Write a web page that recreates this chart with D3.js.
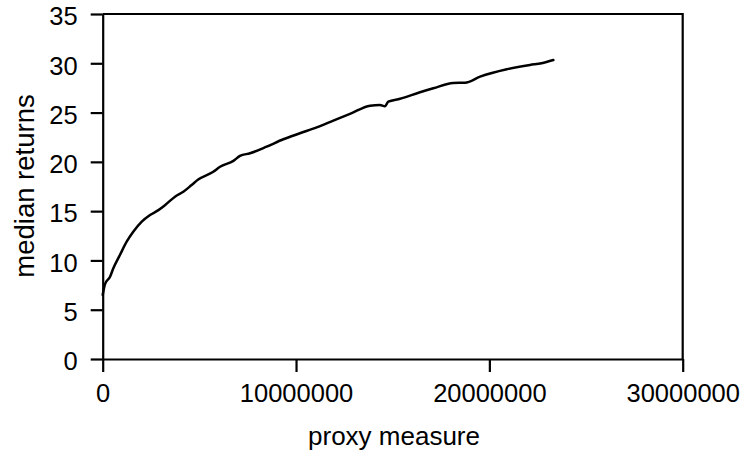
<!DOCTYPE html>
<html>
<head>
<meta charset="utf-8">
<script src="https://cdn.jsdelivr.net/npm/d3@7"></script>
<style>
  body { margin: 0; background: #fff; }
  svg text { font-family: "Liberation Sans", Arial, Helvetica, sans-serif; fill: #000; }
</style>
</head>
<body>
<script>
// proxy measure values along the curve
var proxyVals = [0, 120000, 380000, 550000, 890000, 1240000, 1580000, 2020000, 2450000, 2880000,
  3220000, 3740000, 4170000, 4600000, 4940000, 5720000, 6070000, 6760000, 7100000, 7620000,
  8480000, 9340000, 10200000, 11070000, 11930000, 12790000, 13830000, 14340000, 14600000, 14770000,
  15380000, 16410000, 17100000, 18130000, 18740000, 19520000, 20900000, 22100000, 22700000, 23310000];
// median returns at those points
var medianVals = [6.5, 7.6, 8.35, 9.2, 10.55, 11.9, 12.9, 13.93, 14.6, 15.1,
  15.6, 16.47, 16.97, 17.65, 18.2, 19.0, 19.5, 20.1, 20.6, 20.87,
  21.54, 22.29, 22.9, 23.5, 24.18, 24.86, 25.7, 25.77, 25.65, 26.1,
  26.4, 27.06, 27.46, 28.0, 28.03, 28.64, 29.39, 29.83, 30.0, 30.33];

var xTicks = [0, 10000000, 20000000, 30000000];
var yTicks = [0, 5, 10, 15, 20, 25, 30, 35];

var w = 745, h = 462;
var plotL = 102.7, plotR = 682.7, plotT = 14, plotB = 359;

var svg = d3.select("body").append("svg")
  .attr("width", w)
  .attr("height", h);

var x = d3.scaleLinear().domain([0, 30000000]).range([plotL, plotR]);
var y = d3.scaleLinear().domain([0, 35]).range([plotB, plotT]);

// frame top and right
svg.append("path")
  .attr("d", "M" + plotL + "," + plotT + "H" + plotR + "V" + plotB)
  .attr("fill", "none")
  .attr("stroke", "#000")
  .attr("stroke-width", 2.2);

var yAxis = svg.append("g")
  .attr("transform", "translate(" + plotL + ",0)")
  .call(d3.axisLeft(y).tickValues(yTicks).tickSize(12).tickSizeOuter(0).tickPadding(13));

var xAxis = svg.append("g")
  .attr("transform", "translate(0," + plotB + ")")
  .call(d3.axisBottom(x).tickValues(xTicks).tickSize(13).tickSizeOuter(0).tickPadding(13)
    .tickFormat(d3.format("d")));

[xAxis, yAxis].forEach(function(a){
  a.selectAll("path, line").attr("stroke", "#000").attr("stroke-width", 2.2);
  a.selectAll("text").style("font-size", "25.5px").attr("fill", "#000");
});
yAxis.selectAll("text").attr("dy", "0.42em");
xAxis.selectAll("text").attr("dy", "0.66em");

var pts = proxyVals.map(function(d, i){ return [d, medianVals[i]]; });

var line = d3.line()
  .x(function(d){ return x(d[0]); })
  .y(function(d){ return y(d[1]); })
  .curve(d3.curveMonotoneX);

svg.append("path")
  .datum(pts)
  .attr("d", line)
  .attr("fill", "none")
  .attr("stroke", "#000")
  .attr("stroke-width", 2.5)
  .attr("stroke-linejoin", "round")
  .attr("stroke-linecap", "round");

svg.append("text")
  .attr("x", 394)
  .attr("y", 445)
  .attr("text-anchor", "middle")
  .style("font-size", "26px")
  .text("proxy measure");

svg.append("text")
  .attr("transform", "translate(34,186) rotate(-90)")
  .attr("text-anchor", "middle")
  .style("font-size", "27.5px")
  .text("median returns");
</script>
</body>
</html>
